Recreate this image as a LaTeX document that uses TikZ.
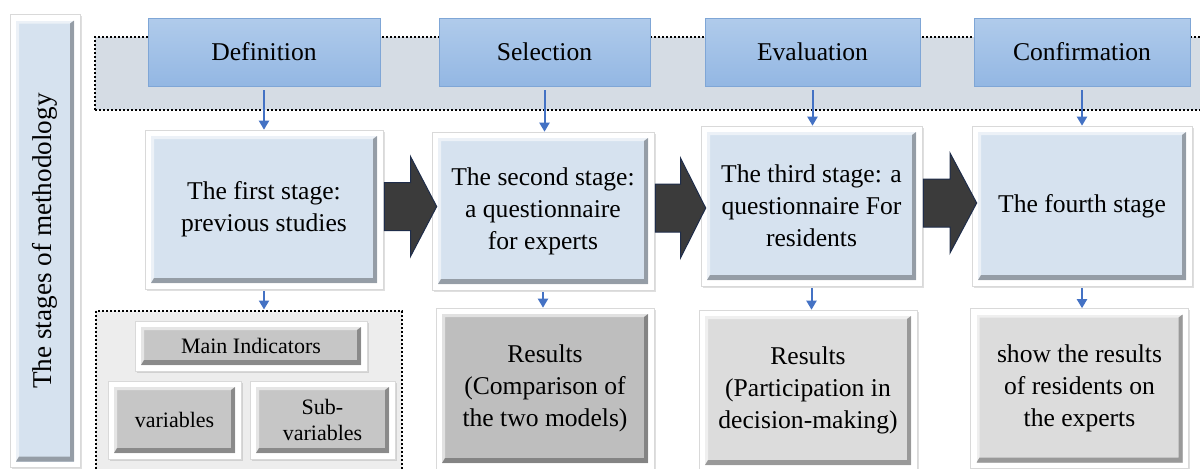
\documentclass[tikz,border=0pt]{standalone}
\usepackage{fontspec}
\setmainfont{Liberation Serif}
\newfontfamily\serifface{Liberation Serif}
\usetikzlibrary{arrows.meta, shadows, calc}

\definecolor{bandfill}{HTML}{D5DCE4}
\definecolor{headtop}{HTML}{B0CBEB}
\definecolor{headbot}{HTML}{93B7E3}
\definecolor{headline}{HTML}{7FA6D6}
\definecolor{stagefill}{HTML}{D6E2EF}
\definecolor{linkblue}{HTML}{4472C4}
\definecolor{arrowfill}{HTML}{3B3B3B}
\definecolor{arrowline}{HTML}{1F2D4A}
\definecolor{greyfill}{HTML}{C6C6C6}
\definecolor{darkres}{HTML}{BEBEBE}
\definecolor{lightres}{HTML}{DCDCDC}
\definecolor{groupfill}{HTML}{EDEDED}

% face en relief dans le cadre blanc
\newcommand{\bevelface}[1]{%
  \coordinate (bsw) at ($(path picture bounding box.south west)+(3pt,3pt)$);
  \coordinate (bne) at ($(path picture bounding box.north east)+(-3pt,-3pt)$);
  \fill[#1] (bsw) rectangle (bne);
  \fill[white, opacity=.55] (bsw) -- (bsw |- bne) -- (bne) -- ($(bne)+(-2pt,-1.5pt)$)
    -- ($(bsw |- bne)+(1.5pt,-1.5pt)$) -- ($(bsw)+(1.5pt,2.5pt)$) -- cycle;
  \fill[black, opacity=.3] (bsw) -- (bne |- bsw) -- (bne) -- ($(bne)+(-2pt,-1.5pt)$)
    -- ($(bne |- bsw)+(-2pt,2.5pt)$) -- ($(bsw)+(1.5pt,2.5pt)$) -- cycle;
}

\tikzset{
  headbox/.style={draw=headline, top color=headtop, bottom color=headbot,
    minimum height=34pt, font=\serifface\fontsize{12.8}{16}\selectfont},
  framebox/.style={fill=white, draw=black!15, line width=.3pt,
    drop shadow={opacity=.25, shadow xshift=.8pt, shadow yshift=-.8pt},
    path picture={\bevelface{#1}}, align=center,
    font=\serifface\fontsize{12.8}{16}\selectfont},
  smallbox/.style={framebox=greyfill, font=\serifface\fontsize{11}{13}\selectfont},
  linkarrow/.style={draw=linkblue, line width=1pt, -{Triangle[width=5pt,length=4.5pt]}},
  bigarrow/.style={fill=arrowfill, draw=arrowline, line width=.5pt},
  dotbox/.style={draw, dash pattern=on 1pt off 1pt, line width=1pt},
}

\begin{document}
\begin{tikzpicture}[x=0.5pt, y=-0.5pt]

	\useasboundingbox (0,0) rectangle (1200,468);
	\clip (0,0) rectangle (1200,468);

	% fonds en pointillés
	\node[dotbox, fill=bandfill, minimum width=555pt, minimum height=36.5pt] (band) at (650,73.5) {};
	\node[dotbox, fill=groupfill, minimum width=153pt, minimum height=82pt] (grp) at (249,392.5) {};

	% colonne de gauche
	\node[framebox=stagefill, minimum width=35pt, minimum height=226.5pt] (side) at (45,241) {};
	\node[rotate=90, font=\serifface\fontsize{13.6}{16}\selectfont] (sidelbl) at (side.center) {The stages of methodology};

	\foreach \name/\x/\w/\lbl in {hd1/264/116/Definition, hd2/544.5/105.5/Selection,
		hd3/812.5/107.5/Evaluation, hd4/1082/108/Confirmation}
		\node[headbox, minimum width=\w pt] (\name) at (\x,52) {\lbl};

	% les quatre etapes
	\node[framebox=stagefill, minimum width=119pt, minimum height=79.5pt] (st1) at (264,209.5) {The first stage:\\previous studies};
	\node[framebox=stagefill, minimum width=111pt, minimum height=79pt] (st2) at (543,211) {The second stage:\\a questionnaire\\for experts};
	\node[framebox=stagefill, minimum width=110.5pt, minimum height=80pt] (st3) at (811.5,206) {The third stage: a\\questionnaire For\\residents};
	\node[framebox=stagefill, minimum width=110pt, minimum height=80pt] (st4) at (1082,206) {The fourth stage};

	% resultats
	\node[smallbox, minimum width=116pt, minimum height=25pt] (mainind) at (251,346) {Main Indicators};
	\node[smallbox, minimum width=66.5pt, minimum height=39pt] (vars) at (174.5,420) {variables};
	\node[smallbox, minimum width=72.5pt, minimum height=39pt] (subvars) at (322.5,420) {Sub-\\variables};
	\node[framebox=darkres, minimum width=109pt, minimum height=80.5pt] (res2) at (545,388.5) {Results\\(Comparison of\\the two models)};
	\node[framebox=lightres, minimum width=109pt, minimum height=80.5pt] (res3) at (808,390.5) {Results\\(Participation in\\decision-making)};
	\node[framebox=lightres, minimum width=109pt, minimum height=80pt] (res4) at (1079.5,388.5) {show the results\\of residents on\\the experts};

	\foreach \i in {1,...,4}
		\draw[linkarrow] ([yshift=-2pt]hd\i.south) -- (hd\i.south |- st\i.north);
	\draw[linkarrow] ([yshift=-1pt]st1.south) -- (st1.south |- grp.north);
	\foreach \i in {2,3,4}
		\draw[linkarrow] ([yshift=-1pt]st\i.south) -- (st\i.south |- res\i.north);

	\foreach \a/\b in {st1/st2, st2/st3, st3/st4} {
		\coordinate (tl) at ($(\a.east)+(1,-3)$);
		\coordinate (tp) at ($(\b.west |- tl)+(5,0)$);
		\coordinate (md) at ($(tl)!.5!(tp)$);
		\draw[bigarrow] ($(tl)+(0,-24)$) -- ($(md)+(0,-24)$) -- ($(md)+(0,-50)$) -- (tp)
			-- ($(md)+(0,50)$) -- ($(md)+(0,24)$) -- ($(tl)+(0,24)$) -- cycle;
	}

\end{tikzpicture}
\end{document}
